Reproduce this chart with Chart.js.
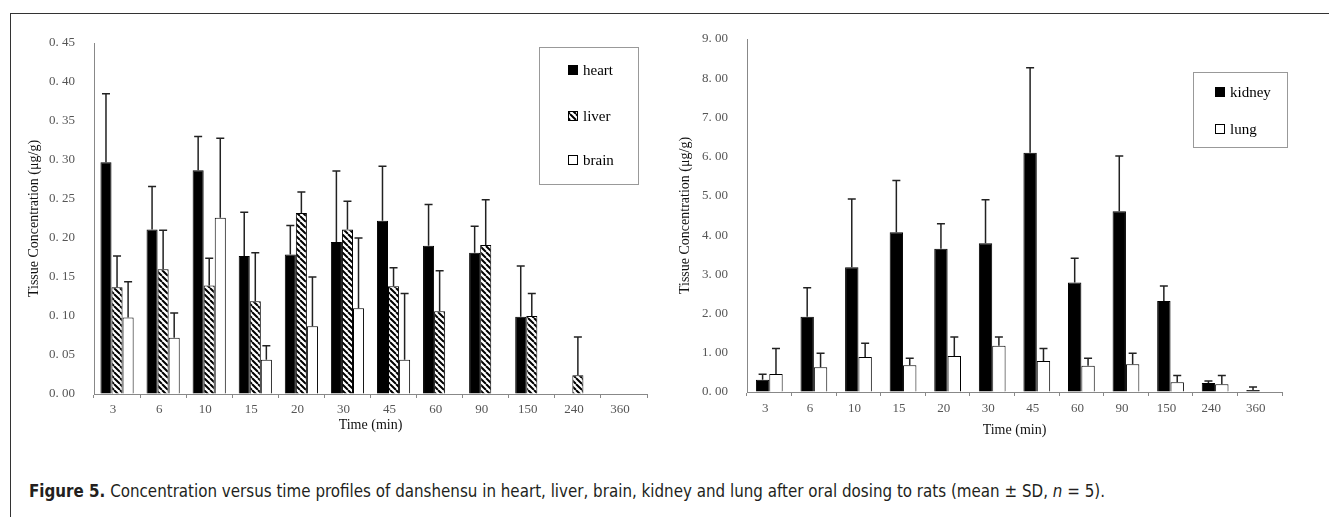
<!DOCTYPE html>
<html>
<head>
<meta charset="utf-8">
<script src="https://cdn.jsdelivr.net/npm/chart.js@4.4.1/dist/chart.umd.min.js"></script>
<style>
  html, body { margin: 0; padding: 0; background: #fff; width: 1329px; height: 517px; overflow: hidden; }
  .frame-top { position: absolute; left: 10px; top: 13px; width: 1319px; height: 0; border-top: 1.5px solid #333; z-index: 2; }
  .frame-left { position: absolute; left: 10px; top: 13px; width: 0; height: 504px; border-left: 1.5px solid #333; z-index: 2; }
  canvas { position: absolute; top: 0; }
  #left-chart { left: 0; }
  #right-chart { left: 665px; }
  #caption { position: absolute; left: 29px; top: 481px; font: 17px "Liberation Sans Narrow", "DejaVu Sans Condensed", "Liberation Sans", sans-serif; color: #231f20; white-space: nowrap; transform-origin: 0 0; }
</style>
</head>
<body>
<div class="frame-top"></div>
<div class="frame-left"></div>
<canvas id="left-chart" width="665" height="440"></canvas>
<canvas id="right-chart" width="664" height="440"></canvas>
<div id="caption"><b>Figure 5.</b> Concentration versus time profiles of danshensu in heart, liver, brain, kidney and lung after oral dosing to rats (mean ± SD, <i>n</i> = 5).</div>
<script>
// tempos de coleta (min)
const times = ['3', '6', '10', '15', '20', '30', '45', '60', '90', '150', '240', '360'];

// painel esquerdo: coração, fígado, cérebro (média e DP)
const heart   = [0.297, 0.211, 0.287, 0.177, 0.179, 0.195, 0.222, 0.190, 0.181, 0.099, 0, 0];
const heartSD = [0.088, 0.055, 0.043, 0.056, 0.037, 0.091, 0.070, 0.053, 0.034, 0.065, 0, 0];
const liver   = [0.137, 0.160, 0.139, 0.119, 0.232, 0.211, 0.138, 0.106, 0.191, 0.100, 0.024, 0];
const liverSD = [0.040, 0.050, 0.035, 0.062, 0.027, 0.036, 0.024, 0.052, 0.058, 0.029, 0.049, 0];
const brain   = [0.098, 0.072, 0.226, 0.044, 0.087, 0.110, 0.044, 0, 0, 0, 0, 0];
const brainSD = [0.046, 0.032, 0.102, 0.018, 0.063, 0.090, 0.085, 0, 0, 0, 0, 0];

// painel direito: rim e pulmão
const kidney   = [0.31, 1.92, 3.18, 4.07, 3.65, 3.79, 6.10, 2.79, 4.61, 2.32, 0.23, 0.05];
const kidneySD = [0.14, 0.74, 1.74, 1.32, 0.64, 1.11, 2.17, 0.62, 1.41, 0.38, 0.05, 0.08];
const lung     = [0.46, 0.63, 0.89, 0.68, 0.92, 1.18, 0.79, 0.67, 0.71, 0.25, 0.20, 0];
const lungSD   = [0.65, 0.36, 0.35, 0.18, 0.48, 0.22, 0.32, 0.19, 0.28, 0.17, 0.22, 0];

const tickFont = { family: '"Liberation Serif", serif', size: 13 };
const titleFont = { family: '"Liberation Serif", serif', size: 14 };

function hatchPattern() {
    const c = document.createElement('canvas');
    c.width = 6; c.height = 6;
    const g = c.getContext('2d');
    g.fillStyle = '#fff';
    g.fillRect(0, 0, 6, 6);
    g.strokeStyle = '#000';
    g.lineWidth = 2;
    g.beginPath();
    for (const k of [-6, 0, 6]) { g.moveTo(k, 0); g.lineTo(k + 6, 6); }
    g.stroke();
    return g.createPattern(c, 'repeat');
}

// barras de erro (só para cima, com "chapéu")
const errorBars = {
    id: 'errorBars',
    afterDatasetsDraw(chart) {
        const { ctx } = chart;
        const y = chart.scales.y;
        ctx.save();
        ctx.strokeStyle = '#222';
        ctx.lineWidth = 1.5;
        chart.data.datasets.forEach((ds, i) => {
            chart.getDatasetMeta(i).data.forEach((bar, j) => {
                const sd = ds.sd[j];
                if (!sd) return;
                const top = y.getPixelForValue(ds.data[j] + sd);
                ctx.beginPath();
                ctx.moveTo(bar.x, bar.y);
                ctx.lineTo(bar.x, top);
                ctx.moveTo(bar.x - 4, top);
                ctx.lineTo(bar.x + 4, top);
                ctx.stroke();
            });
        });
        ctx.restore();
    }
};

// legenda dentro de uma caixa, como no original
const boxLegend = {
    id: 'boxLegend',
    afterDraw(chart, args, opts) {
        const { ctx } = chart;
        ctx.save();
        ctx.strokeStyle = '#999';
        ctx.lineWidth = 1;
        ctx.strokeRect(opts.left + 0.5, opts.top + 0.5, opts.width, opts.height);
        ctx.font = '15px "Liberation Serif", serif';
        ctx.textBaseline = 'middle';
        chart.data.datasets.forEach((ds, i) => {
            const yy = opts.rows[i];
            ctx.fillStyle = ds.backgroundColor;
            ctx.fillRect(opts.swatchX, yy - 5, 10, 10);
            ctx.strokeStyle = '#000';
            ctx.strokeRect(opts.swatchX + 0.5, yy - 4.5, 9, 9);
            ctx.fillStyle = '#000';
            ctx.fillText(ds.label, opts.swatchX + 15, yy + 1);
        });
        ctx.restore();
    }
};

function makeChart(id, datasets, cfg) {
    return new Chart(document.getElementById(id).getContext('2d'), {
        type: 'bar',
        data: { labels: times, datasets: datasets },
        plugins: [errorBars, boxLegend],
        options: {
            responsive: false,
            animation: false,
            layout: { padding: { top: cfg.top, right: cfg.right, bottom: 0, left: 0 } },
            datasets: { bar: { categoryPercentage: cfg.catPct, barPercentage: 1, borderWidth: 1, borderColor: '#000' } },
            scales: {
                x: {
                    grid: { offset: true, drawOnChartArea: false, tickLength: 4, color: '#888' },
                    border: { color: '#888' },
                    ticks: { font: tickFont, color: '#555', padding: cfg.xTickPad, labelOffset: -4, maxRotation: 0 },
                    title: { display: true, text: 'Time (min)', font: titleFont, color: '#111', padding: { top: 0, bottom: cfg.xTitlePad } },
                    afterFit: (s) => { s.height = cfg.xHeight; }
                },
                y: {
                    min: 0,
                    max: cfg.max,
                    ticks: { stepSize: cfg.step, font: tickFont, color: '#555', padding: 19, callback: cfg.fmt },
                    grid: { drawOnChartArea: false, drawTicks: false },
                    border: { color: '#888' },
                    title: { display: true, text: 'Tissue Concentration (μg/g)', font: titleFont, color: '#111', padding: { top: cfg.yTitlePad, bottom: 0 } },
                    afterFit: (s) => { s.width = cfg.yWidth; }
                }
            },
            plugins: {
                legend: { display: false },
                tooltip: { enabled: false },
                boxLegend: cfg.legend
            }
        }
    });
}

makeChart('left-chart', [
    { label: 'heart', data: heart, sd: heartSD, backgroundColor: '#000' },
    { label: 'liver', data: liver, sd: liverSD, backgroundColor: hatchPattern() },
    { label: 'brain', data: brain, sd: brainSD, backgroundColor: '#fff' },
], {
    top: 43, right: 18, catPct: 0.72, max: 0.45, step: 0.05,
    fmt: (v) => v.toFixed(2).replace('.', '. '),
    xHeight: 46, xTickPad: 4, xTitlePad: 6, yWidth: 94, yTitlePad: 26,
    legend: { left: 539, top: 47, width: 99, height: 137, swatchX: 568, rows: [70, 116, 160] }
});

makeChart('right-chart', [
    { label: 'kidney', data: kidney, sd: kidneySD, backgroundColor: '#000' },
    { label: 'lung', data: lung, sd: lungSD, backgroundColor: '#fff' },
], {
    top: 39, right: 47, catPct: 0.6, max: 9, step: 1,
    fmt: (v) => v.toFixed(2).replace('.', '. '),
    xHeight: 48, xTickPad: 5, xTitlePad: 1, yWidth: 82, yTitlePad: 12,
    legend: { left: 528, top: 72, width: 94, height: 75, swatchX: 550, rows: [92, 129] }
});

// legenda da figura esticada para a largura original
const caption = document.getElementById('caption');
const w = caption.getBoundingClientRect().width;
caption.style.transform = 'scaleX(' + (1076 / w) + ')';
</script>
</body>
</html>
